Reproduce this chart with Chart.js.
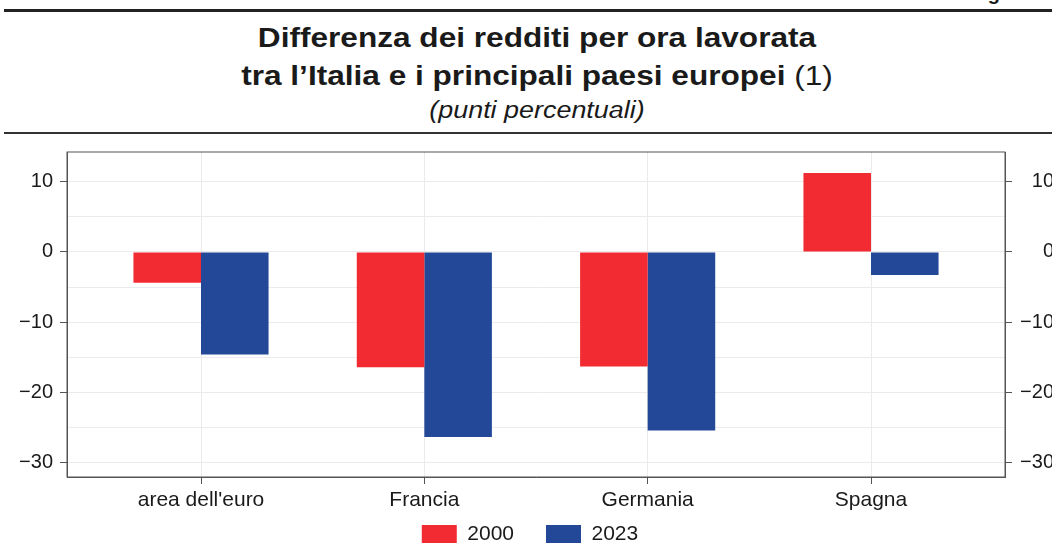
<!DOCTYPE html>
<html>
<head>
<meta charset="utf-8">
<script src="https://cdn.jsdelivr.net/npm/chart.js@4.4.1/dist/chart.umd.min.js"></script>
<style>
body { margin: 0; width: 1052px; height: 555px; overflow: hidden; background: #fff; position: relative;
  font-family: "Liberation Sans", Arial, sans-serif; color: #1a1a1a; }
.rule1 { position: absolute; left: 4px; right: 0; top: 9px; height: 3px; background: #222; }
.rule2 { position: absolute; left: 4px; right: 0; top: 132px; height: 2px; background: #333; }
.fig { position: absolute; left: 970px; top: -17px; font-size: 20px; line-height: 20px; font-weight: bold; white-space: nowrap; }
.t { position: absolute; left: 0; width: 1074px; text-align: center; white-space: nowrap;
  transform: scaleX(1.17); transform-origin: 537px 0; }
.t1 { top: 25px; font-size: 27px; line-height: 27px; font-weight: bold; }
.t2 { top: 63px; font-size: 27px; line-height: 27px; font-weight: bold; }
.t2 span { font-weight: normal; }
.t3 { top: 99px; font-size: 23px; line-height: 23px; font-style: italic; }
#wrap { position: absolute; left: 0; top: 140px; width: 1054px; height: 436px; }
</style>
</head>
<body>
<div class="fig">Figura</div>
<div class="rule1"></div>
<div class="t t1">Differenza dei redditi per ora lavorata</div>
<div class="t t2">tra l’Italia e i principali paesi europei <span>(1)</span></div>
<div class="t t3">(punti percentuali)</div>
<div class="rule2"></div>
<div id="wrap"><canvas id="myChart"></canvas></div>
<script>
var categories = ["area dell'euro", 'Francia', 'Germania', 'Spagna']
var series = ['2000', '2023']
var values2000 = [-4.4, -16.4, -16.3, 11.2]
var values2023 = [-14.6, -26.3, -25.4, -3.3]
var yTicks = [10, 5, 0, -5, -10, -15, -20, -25, -30]

Chart.defaults.font.family = '"Liberation Sans", Arial, sans-serif'
Chart.defaults.color = '#1a1a1a'

// label with a real minus sign, only every 10
function yLabel(v) {
    if (v % 10 != 0) return ''
    return v < 0 ? '\u2212' + Math.abs(v) : String(v)
}
function yTickColor(c) {
    return c.tick && c.tick.value % 10 == 0 ? '#555' : 'rgba(0,0,0,0)'
}

var yAxis = {
    type: 'linear',
    min: -32,
    max: 14.2,
    afterBuildTicks: function (s) {
        s.ticks = yTicks.map((v) => ({ value: v }))
    },
    grid: { color: '#ebebeb', tickColor: yTickColor, tickLength: 7 },
    border: { color: '#555' },
    ticks: { callback: yLabel, font: { size: 20 }, padding: 7 }
}

var data = {
    datasets: [{
        label: series[0],
        data: values2000.map((v, i) => ({ x: i, y: v })),
        backgroundColor: '#f12b31'
    },
    {
        label: series[1],
        data: values2023.map((v, i) => ({ x: i, y: v })),
        backgroundColor: '#224897'
    }]
}

// box round the plot area, legend pulled up under the axis labels
var frame = {
    id: 'frame',
    afterLayout: function (chart) {
        var lg = chart.legend
        lg.top -= 21.5
        lg.bottom -= 21.5
        lg.left += 3
        lg.right += 3
    },
    afterDraw: function (chart) {
        var a = chart.chartArea
        var ctx = chart.ctx
        ctx.save()
        ctx.strokeStyle = '#555'
        ctx.lineWidth = 1
        ctx.strokeRect(a.left, a.top, a.right - a.left, a.bottom - a.top)
        ctx.restore()
    }
}

var ctx = document.getElementById('myChart').getContext('2d')
var myChart = new Chart(ctx, {
    type: 'bar',
    data: data,
    plugins: [frame],
    options: {
        responsive: true,
        maintainAspectRatio: false,
        animation: false,
        categoryPercentage: 0.605,
        barPercentage: 1,
        layout: { padding: { top: 12, bottom: 0, left: 0, right: 0 } },
        scales: {
            x: {
                type: 'linear',
                offset: false,
                bounds: 'data',
                min: -0.6,
                max: 3.6,
                afterBuildTicks: function (s) {
                    s.ticks = categories.map((c, i) => ({ value: i }))
                },
                afterFit: function (s) { s.height = 36 },
                grid: { offset: false, color: '#ebebeb', tickColor: '#555', tickLength: 7 },
                border: { color: '#555' },
                ticks: {
                    callback: (v, i) => categories[i],
                    font: { size: 21 },
                    padding: 4,
                    maxRotation: 0,
                    minRotation: 0,
                    autoSkip: false
                }
            },
            y: Object.assign({}, yAxis, {
                position: 'left',
                afterFit: function (s) { s.width = 67; s.paddingTop = 0; s.paddingBottom = 0 }
            }),
            y2: Object.assign({}, yAxis, {
                position: 'right',
                grid: { color: '#ebebeb', tickColor: yTickColor, tickLength: 7, drawOnChartArea: false },
                ticks: { callback: yLabel, font: { size: 20 }, padding: 7, crossAlign: 'far' },
                afterFit: function (s) { s.width = 49; s.paddingTop = 0; s.paddingBottom = 0 }
            })
        },
        plugins: {
            legend: {
                position: 'bottom',
                labels: {
                    boxWidth: 35,
                    boxHeight: 18,
                    padding: 32,
                    font: { size: 21 }
                }
            },
            tooltip: { enabled: false }
        }
    }
})
</script>
</body>
</html>
